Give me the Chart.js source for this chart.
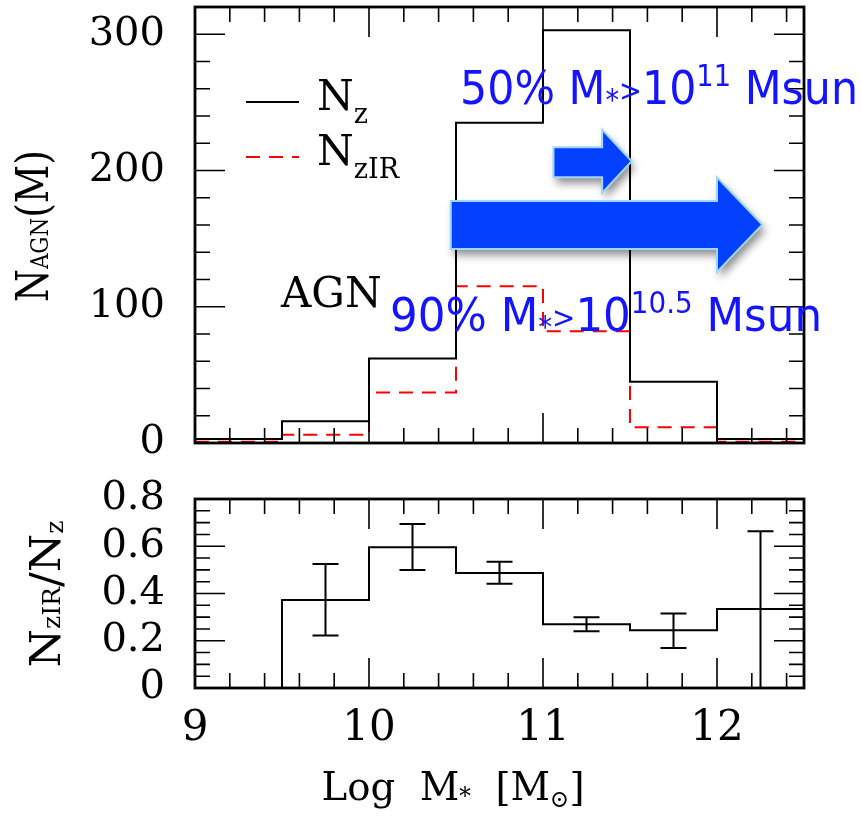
<!DOCTYPE html>
<html>
<head>
<meta charset="utf-8">
<script src="https://cdn.jsdelivr.net/npm/chart.js@4.4.1/dist/chart.umd.min.js"></script>
<style>
  html, body { margin: 0; padding: 0; background: #fff; }
  #wrap { position: relative; width: 862px; height: 817px; overflow: hidden; }
  canvas { position: absolute; left: 0; }
  #top { top: 0; }
  #bot { top: 470px; }
</style>
</head>
<body>
<div id="wrap">
  <canvas id="top" width="862" height="470"></canvas>
  <canvas id="bot" width="862" height="347"></canvas>
</div>
<script>
// histogram bins in Log M*
const binEdges = [9, 9.5, 10, 10.5, 11, 11.5, 12, 12.5];
const nz = [3, 16, 62, 235, 303, 45, 3];
const nzIR = [1, 6, 37, 115, 82, 11.5, 1];
// ratio panel
const ratio = [0, 0.373, 0.596, 0.487, 0.27, 0.244, 0.334];
const errX = [9.75, 10.25, 10.75, 11.25, 11.75, 12.25];
const errLo = [0.222, 0.5, 0.441, 0.24, 0.169, 0];
const errHi = [0.525, 0.694, 0.534, 0.299, 0.315, 0.663];
// ticks
const xTicks = [9, 10, 11, 12];
const yTopTicks = [0, 100, 200, 300];
const yBotTicks = [0, 0.2, 0.4, 0.6, 0.8];

const SERIF = '"DejaVu Serif", serif';
const SANS = '"DejaVu Sans", sans-serif';
const BLUE = '#1414ff';

// stepped histogram points: each bin value holds from its left edge
const toSteps = (vals) => binEdges.map((e, i) => ({ x: e, y: vals[Math.min(i, vals.length - 1)] }));

// draws text made of parts [text, size, dy], optionally squeezed to a width / rotated
function richText(ctx, parts, x, y, o) {
  o = o || {};
  const font = (size) => (o.weight ? o.weight + ' ' : '') + size + 'px ' + o.family;
  ctx.save();
  let w = 0;
  parts.forEach((p) => { ctx.font = font(p[1]); w += ctx.measureText(p[0]).width; });
  ctx.translate(x, y);
  if (o.rotate) ctx.rotate(o.rotate);
  if (o.width) ctx.scale(o.width / w, 1);
  let cx = o.center ? -w / 2 : 0;
  ctx.fillStyle = o.color || '#000';
  ctx.textBaseline = 'alphabetic';
  ctx.textAlign = 'left';
  parts.forEach((p) => {
    ctx.font = font(p[1]);
    ctx.fillText(p[0], cx, p[2] || 0);
    cx += ctx.measureText(p[0]).width;
  });
  ctx.restore();
}

// closed box with inward major/minor ticks on all four sides
function frameTicks(yMajor, yMinor) {
  return {
    id: 'frameTicks',
    afterDatasetsDraw(chart) {
      const { ctx, chartArea: a, scales: { x, y } } = chart;
      const isIn = (arr, v) => arr.some((t) => Math.abs(t - v) < 1e-6);
      ctx.save();
      ctx.strokeStyle = '#000';
      ctx.lineWidth = 1.6;
      ctx.beginPath();
      for (let i = 1; ; i++) {
        const v = x.min + i * 0.2;
        if (v > x.max - 1e-6) break;
        const len = isIn(xTicks, v) ? 30 : 15;
        const px = x.getPixelForValue(v);
        ctx.moveTo(px, a.bottom); ctx.lineTo(px, a.bottom - len);
        ctx.moveTo(px, a.top); ctx.lineTo(px, a.top + len);
      }
      for (let i = 1; ; i++) {
        const v = y.min + i * yMinor;
        if (v > y.max - 1e-6) break;
        const len = isIn(yMajor, v) ? 30 : 15;
        const py = y.getPixelForValue(v);
        ctx.moveTo(a.left, py); ctx.lineTo(a.left + len, py);
        ctx.moveTo(a.right, py); ctx.lineTo(a.right - len, py);
      }
      ctx.stroke();
      ctx.lineWidth = 2.8;
      ctx.strokeRect(a.left, a.top, a.width, a.height);
      ctx.restore();
    }
  };
}

const errorBars = {
  id: 'errorBars',
  afterDatasetsDraw(chart) {
    const { ctx, scales: { x, y } } = chart;
    ctx.save();
    ctx.strokeStyle = '#000';
    ctx.lineWidth = 2;
    ctx.beginPath();
    errX.forEach((v, i) => {
      const px = x.getPixelForValue(v);
      const lo = y.getPixelForValue(errLo[i]);
      const hi = y.getPixelForValue(errHi[i]);
      ctx.moveTo(px, lo); ctx.lineTo(px, hi);
      ctx.moveTo(px - 13, hi); ctx.lineTo(px + 13, hi);
      if (errLo[i] > 0) { ctx.moveTo(px - 13, lo); ctx.lineTo(px + 13, lo); }
    });
    ctx.stroke();
    ctx.restore();
  }
};

// pasted-on annotations of the top panel (arrows in data units)
const bigArrow = { x0: 10.47, x1: 12.0, tip: 12.26, bTop: 177.6, bBot: 142.4, hTop: 195, hBot: 125.5 };
const smallArrow = { x0: 11.06, x1: 11.34, tip: 11.51, bTop: 217, bBot: 195, hTop: 230, hBot: 183.5 };

const topDecor = {
  id: 'topDecor',
  afterDraw(chart) {
    const { ctx, scales: { x, y } } = chart;
    const ds = chart.data.datasets;

    // legend
    ctx.save();
    ctx.lineWidth = 2;
    ctx.strokeStyle = ds[0].borderColor;
    ctx.beginPath(); ctx.moveTo(246, 102); ctx.lineTo(299, 102); ctx.stroke();
    ctx.strokeStyle = ds[1].borderColor;
    ctx.setLineDash(ds[1].borderDash);
    ctx.beginPath(); ctx.moveTo(246, 157); ctx.lineTo(299, 157); ctx.stroke();
    ctx.restore();
    richText(ctx, [['N', 42], ['z', 27, 13]], 317, 110, { family: SERIF });
    richText(ctx, [['N', 42], ['zIR', 27, 13]], 317, 165, { family: SERIF });
    richText(ctx, [['AGN', 42]], 281, 307, { family: SERIF });

    // arrows
    const arrow = (a) => {
      const ym = y.getPixelForValue((a.hTop + a.hBot) / 2);
      ctx.beginPath();
      ctx.moveTo(x.getPixelForValue(a.x0), y.getPixelForValue(a.bTop));
      ctx.lineTo(x.getPixelForValue(a.x1), y.getPixelForValue(a.bTop));
      ctx.lineTo(x.getPixelForValue(a.x1), y.getPixelForValue(a.hTop));
      ctx.lineTo(x.getPixelForValue(a.tip), ym);
      ctx.lineTo(x.getPixelForValue(a.x1), y.getPixelForValue(a.hBot));
      ctx.lineTo(x.getPixelForValue(a.x1), y.getPixelForValue(a.bBot));
      ctx.lineTo(x.getPixelForValue(a.x0), y.getPixelForValue(a.bBot));
      ctx.closePath();
      ctx.save();
      ctx.shadowColor = 'rgba(0,0,0,0.45)';
      ctx.shadowBlur = 9;
      ctx.shadowOffsetX = 3;
      ctx.shadowOffsetY = 6;
      ctx.fillStyle = '#0440ff';
      ctx.fill();
      ctx.restore();
      ctx.save();
      ctx.strokeStyle = '#9fd6ff';
      ctx.lineWidth = 2;
      ctx.stroke();
      ctx.restore();
    };
    arrow(smallArrow);
    arrow(bigArrow);

    // blue labels
    richText(ctx, [['50% M', 47], ['*', 30, 6], ['>', 30, -3], ['10', 47], ['11', 30, -18], [' Msun', 47]],
      460, 104, { family: SANS, color: BLUE, width: 398 });
    richText(ctx, [['90% M', 47], ['*', 30, 6], ['>', 30, -3], ['10', 47], ['10.5', 30, -18], [' Msun', 47]],
      390, 331, { family: SANS, color: BLUE, width: 432 });

    // y title
    richText(ctx, [['N', 44], ['AGN', 25], ['(M)', 44]], 48, 226,
      { family: SERIF, rotate: -Math.PI / 2, center: true, width: 152 });
  }
};

const botDecor = {
  id: 'botDecor',
  afterDraw(chart) {
    const { ctx } = chart;
    richText(ctx, [['N', 42], ['zIR', 24], ['/', 42], ['N', 42], ['z', 24, 3]], 60, 124,
      { family: SERIF, rotate: -Math.PI / 2, center: true, width: 147 });
    richText(ctx, [['Log  M', 40], ['*', 24, 4], ['  [M', 40], ['\u2299', 24, 7], [']', 40]], 453, 330,
      { family: SERIF, center: true, width: 263 });
  }
};

// drop the label-overflow padding Chart.js adds, so the plot box sits where the layout puts it
const noEdgePad = (s) => { s.paddingTop = 0; s.paddingBottom = 0; s.paddingLeft = 0; s.paddingRight = 0; };

const tickFont = { family: SERIF, size: 40 };
const yAxis = (min, max, ticks, width) => ({
  type: 'linear', min, max,
  afterBuildTicks: (s) => { s.ticks = ticks.map((v) => ({ value: v })); },
  afterFit: (s) => { s.width = width; noEdgePad(s); },
  grid: { display: false, drawTicks: false },
  border: { display: false },
  ticks: { padding: 30, font: tickFont, color: '#000', autoSkip: false }
});

new Chart(document.getElementById('top'), {
  type: 'line',
  data: {
    datasets: [
      { label: 'Nz', data: toSteps(nz), stepped: true, borderColor: '#000', borderWidth: 2, pointRadius: 0, fill: false },
      { label: 'NzIR', data: toSteps(nzIR), stepped: true, borderColor: '#ff0000', borderWidth: 2, borderDash: [14, 9], pointRadius: 0, fill: false }
    ]
  },
  options: {
    responsive: false,
    animation: false,
    layout: { padding: { top: 7, right: 58, bottom: 27, left: 0 } },
    plugins: { legend: { display: false }, tooltip: { enabled: false } },
    scales: {
      x: { type: 'linear', min: 9, max: 12.5, display: false },
      y: yAxis(0, 320, yTopTicks, 195)
    }
  },
  plugins: [frameTicks(yTopTicks, 20), topDecor]
});

new Chart(document.getElementById('bot'), {
  type: 'line',
  data: {
    datasets: [
      { label: 'ratio', data: toSteps(ratio), stepped: true, borderColor: '#000', borderWidth: 2, pointRadius: 0, fill: false }
    ]
  },
  options: {
    responsive: false,
    animation: false,
    layout: { padding: { top: 29, right: 58, bottom: 0, left: 0 } },
    plugins: { legend: { display: false }, tooltip: { enabled: false } },
    scales: {
      x: {
        type: 'linear', min: 9, max: 12.5,
        afterBuildTicks: (s) => { s.ticks = xTicks.map((v) => ({ value: v })); },
        afterFit: (s) => { s.height = 129; noEdgePad(s); },
        grid: { display: false, drawTicks: false },
        border: { display: false },
        ticks: { padding: 16, font: { family: SERIF, size: 42 }, color: '#000', maxRotation: 0, autoSkip: false }
      },
      y: yAxis(0, 0.8, yBotTicks, 195)
    }
  },
  plugins: [frameTicks(yBotTicks, 0.05), errorBars, botDecor]
});
</script>
</body>
</html>
